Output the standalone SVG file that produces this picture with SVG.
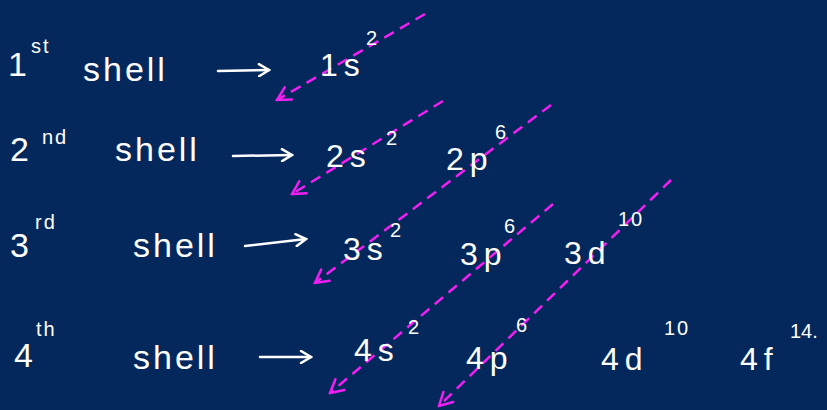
<svg xmlns="http://www.w3.org/2000/svg" width="827" height="410" viewBox="0 0 827 410">
<defs>
<style>
.t{font-family:"Liberation Sans",Arial,sans-serif;fill:#ffffff;font-size:34px;letter-spacing:3px}
.o{font-family:"Liberation Sans",Arial,sans-serif;fill:#ffffff;font-size:32px;letter-spacing:6px}
.s{font-family:"Liberation Sans",Arial,sans-serif;fill:#ffffff;font-size:20px;letter-spacing:2px}
.w{stroke:#ffffff;stroke-width:2.5;fill:none;stroke-linecap:round}
.m{stroke:#f21ff2;stroke-width:2.5;fill:none;stroke-dasharray:11 7}
</style>
<marker id="wa" viewBox="-12 -7 14 14" refX="0" refY="0" markerWidth="14" markerHeight="14" markerUnits="userSpaceOnUse" orient="auto">
<path d="M-10,-6 L0,0 L-10,6" stroke="#ffffff" stroke-width="2.5" fill="none" stroke-linecap="round"/>
</marker>
<marker id="ma" viewBox="-16 -9 18 18" refX="0" refY="0" markerWidth="18" markerHeight="18" markerUnits="userSpaceOnUse" orient="auto">
<path d="M-13,-7 L0,0 L-13,7" stroke="#f21ff2" stroke-width="2.5" fill="none" stroke-linecap="round"/>
</marker>
</defs>
<rect width="827" height="410" fill="#04285c"/>
<g id="connectors">
<line class="w" x1="218" y1="71" x2="269" y2="70" marker-end="url(#wa)"/>
<line class="w" x1="233" y1="156" x2="292" y2="155" marker-end="url(#wa)"/>
<line class="w" x1="245" y1="246" x2="306" y2="239" marker-end="url(#wa)"/>
<line class="w" x1="260" y1="357" x2="311" y2="357" marker-end="url(#wa)"/>
<line class="m" x1="425" y1="14" x2="277" y2="100" marker-end="url(#ma)"/>
<line class="m" x1="443" y1="101" x2="292" y2="194" marker-end="url(#ma)"/>
<line class="m" x1="551" y1="105" x2="315" y2="283" marker-end="url(#ma)"/>
<line class="m" x1="553" y1="204" x2="330" y2="393" marker-end="url(#ma)"/>
<line class="m" x1="671" y1="180" x2="439" y2="406" marker-end="url(#ma)"/>
</g>
<g id="shell1">
<text class="t" x="8" y="76">1</text><text class="s" x="31" y="53">st</text>
<text class="t" x="83" y="81">shell</text>
</g>
<g id="o1s"><text class="o" x="320" y="76">1s</text><text class="s" x="366" y="45">2</text></g>
<g id="shell2">
<text class="t" x="10" y="161">2</text><text class="s" x="42" y="144">nd</text>
<text class="t" x="115" y="161">shell</text>
</g>
<g id="o2s"><text class="o" x="326" y="167">2s</text><text class="s" x="386" y="145">2</text></g>
<g id="o2p"><text class="o" x="446" y="170">2p</text><text class="s" x="495" y="139">6</text></g>
<g id="shell3">
<text class="t" x="10" y="257">3</text><text class="s" x="35" y="229">rd</text>
<text class="t" x="133" y="257">shell</text>
</g>
<g id="o3s"><text class="o" x="343" y="260">3s</text><text class="s" x="390" y="237">2</text></g>
<g id="o3p"><text class="o" x="460" y="265">3p</text><text class="s" x="504" y="233">6</text></g>
<g id="o3d"><text class="o" x="564" y="264">3d</text><text class="s" x="618" y="226">10</text></g>
<g id="shell4">
<text class="t" x="14" y="367">4</text><text class="s" x="36" y="336">th</text>
<text class="t" x="133" y="369">shell</text>
</g>
<g id="o4s"><text class="o" x="354" y="361">4s</text><text class="s" x="408" y="334">2</text></g>
<g id="o4p"><text class="o" x="466" y="369">4p</text><text class="s" x="516" y="332">6</text></g>
<g id="o4d"><text class="o" x="601" y="370">4d</text><text class="s" x="664" y="335">10</text></g>
<g id="o4f"><text class="o" x="740" y="370">4f</text><text class="s" x="790" y="338" style="letter-spacing:0">14.</text></g>
</svg>
